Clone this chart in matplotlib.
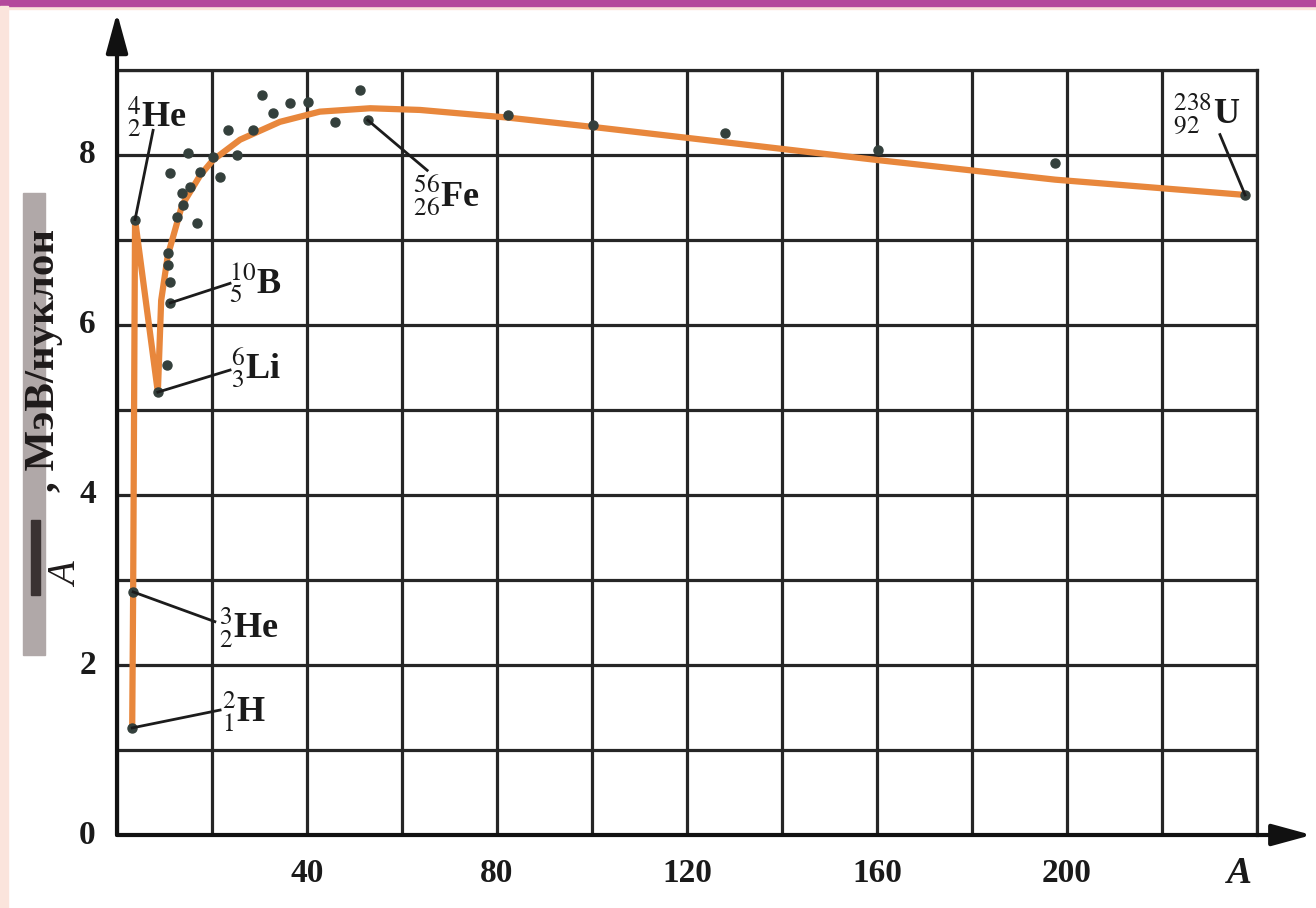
import matplotlib
matplotlib.use("Agg")
import matplotlib.pyplot as plt
from matplotlib.patches import Rectangle

plt.rcParams['font.family'] = ['Liberation Serif', 'DejaVu Serif']
plt.rcParams['mathtext.fontset'] = 'stix'

W, H = 1316, 908

# mass number A vs binding energy per nucleon (MeV)
curve_A = [3.2, 3.4, 3.8, 8.6, 9.3, 10.7, 13.7, 17.5, 20.2, 25.9, 34.3, 42.7,
           53.3, 63.8, 82.3, 100.2, 128, 160.2, 197.5, 237.5]
curve_E = [1.26, 2.86, 7.24, 5.21, 6.29, 6.82, 7.41, 7.76, 7.94, 8.18, 8.39, 8.51,
           8.55, 8.53, 8.44, 8.33, 8.15, 7.94, 7.71, 7.53]

pts_A = [3.2, 3.4, 3.8, 8.6, 10.5, 11.2, 11.2, 10.8, 10.8, 12.6, 13.7, 13.9, 16.8,
         11.2, 15.4, 17.5, 14.9, 20.2, 21.7, 25.3, 23.4, 28.6, 30.5, 32.8, 36.4,
         40.2, 45.9, 51.2, 52.8, 82.3, 100.2, 128, 160.2, 197.5, 237.5]
pts_E = [1.26, 2.86, 7.24, 5.21, 5.53, 6.26, 6.5, 6.7, 6.85, 7.27, 7.55, 7.41, 7.2,
         7.79, 7.62, 7.8, 8.02, 7.98, 7.74, 8.0, 8.29, 8.29, 8.7, 8.49, 8.61,
         8.62, 8.39, 8.76, 8.41, 8.47, 8.35, 8.26, 8.06, 7.9, 7.53]

# nuclide labels: text, point, leader end, text position
nuclides = [r'${}^{4}_{2}$He', r'${}^{10}_{5}$B', r'${}^{6}_{3}$Li', r'${}^{3}_{2}$He',
            r'${}^{2}_{1}$H', r'${}^{56}_{26}$Fe', r'${}^{238}_{92}$U']
nuc_pt = [(3.8, 7.24), (11.2, 6.26), (8.6, 5.21), (3.4, 2.86), (3.2, 1.26),
          (52.8, 8.41), (237.5, 7.53)]
nuc_end = [(7.6, 8.29), (23.8, 6.49), (23.8, 5.47), (20.6, 2.51), (21.7, 1.47),
           (65.3, 7.82), (232.2, 8.24)]
nuc_txt = [(2.1, 8.45), (23.6, 6.5), (24.0, 5.5), (21.5, 2.44), (22.0, 1.45),
           (62.3, 7.53), (222.3, 8.49)]

xticks = [40, 80, 120, 160, 200]
yticks = [0, 2, 4, 6, 8]


def fx(x):
    return x / W


def fy(y):
    return 1 - y / H


fig = plt.figure(figsize=(W / 100, H / 100), dpi=100)
fig.patch.set_facecolor('white')

# frame bands
fig.patches.append(Rectangle((0, fy(9)), 1, 9 / H, transform=fig.transFigure,
                             color='#fbe4dc', zorder=0))
fig.patches.append(Rectangle((0, fy(6)), 1, 6 / H, transform=fig.transFigure,
                             color='#b4489c', zorder=1))
fig.patches.append(Rectangle((0, 0), fx(8), fy(6), transform=fig.transFigure,
                             color='#fbe4dc', zorder=1))

x0, x1, ytop, ybot = 117, 1257, 70, 835
ax = fig.add_axes([fx(x0), fy(ybot), fx(x1 - x0), (ybot - ytop) / H])
ax.set_xlim(0, 240)
ax.set_ylim(0, 9)
ax.set_xticks(range(0, 241, 20))
ax.set_yticks(range(0, 10))
ax.set_xticklabels([])
ax.set_yticklabels([])
ax.tick_params(length=0)
ax.grid(True, color='#262626', lw=2.3)
ax.set_axisbelow(True)
for s in ['top', 'right']:
    ax.spines[s].set_color('#262626')
    ax.spines[s].set_linewidth(2.3)
ax.spines['left'].set_visible(False)
ax.spines['bottom'].set_visible(False)

# axes with arrows
arrow = dict(arrowstyle='-|>,head_length=1.1,head_width=0.3', color='#111111',
             lw=3, mutation_scale=22, shrinkA=0, shrinkB=0)
ax.annotate('', xy=(0, 1.075), xytext=(0, 0), xycoords='axes fraction',
            arrowprops=arrow, annotation_clip=False)
ax.annotate('', xy=(1.048, 0), xytext=(0, 0), xycoords='axes fraction',
            arrowprops=arrow, annotation_clip=False)

ax.plot(curve_A, curve_E, color='#e8873c', lw=4.5, solid_joinstyle='round',
        solid_capstyle='round', zorder=3, clip_on=False)
ax.plot(pts_A, pts_E, 'o', color='#34403c', ms=6.5, zorder=4, clip_on=False)

for t, p, e, tp in zip(nuclides, nuc_pt, nuc_end, nuc_txt):
    ax.plot([p[0], e[0]], [p[1], e[1]], color='#1c1c1c', lw=2, zorder=5)
    ax.text(tp[0], tp[1], t, fontsize=26, fontweight='bold', ha='left',
            va='center', color='#1a1a1a', zorder=6)

for v in yticks:
    ax.text(-6.2, v, str(v), fontsize=24, fontweight='bold', ha='center',
            va='center', color='#1a1a1a', clip_on=False)
for v in xticks:
    ax.text(v, -0.45, str(v), fontsize=24, fontweight='bold', ha='center',
            va='center', color='#1a1a1a', clip_on=False)
ax.text(239, -0.45, 'A', fontsize=27, fontweight='bold', style='italic',
        ha='right', va='center', color='#1a1a1a', clip_on=False)

# y-axis label with grey band
fig.patches.append(Rectangle((fx(23), fy(655)), fx(22), (655 - 193) / H,
                             transform=fig.transFigure, color='#b0a8a8', zorder=2))
fig.patches.append(Rectangle((fx(31), fy(595)), fx(9), 75 / H,
                             transform=fig.transFigure, color='#3a3232', zorder=3))
fig.text(fx(44), fy(360), ', МэВ/нуклон', rotation=90, fontsize=31,
         fontweight='bold', ha='center', va='center', color='#1e1a1a', zorder=4)
fig.text(fx(68), fy(575), 'A', rotation=90, fontsize=28, style='italic',
         ha='center', va='center', color='#1e1a1a', zorder=4)

fig.savefig('out.png', dpi=100)
